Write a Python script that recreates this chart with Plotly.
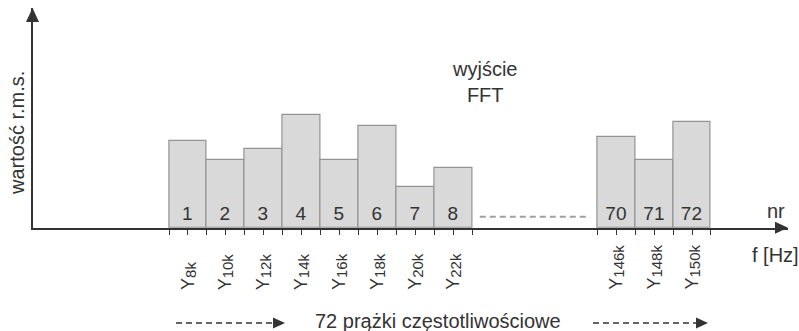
import plotly.graph_objects as go

# FFT output bins: bin number, r.m.s. value and the frequency each bin represents
bin_numbers = ["1", "2", "3", "4", "5", "6", "7", "8", "70", "71", "72"]
rms_values = [87, 68, 79, 113, 68, 102, 41, 60, 91, 68, 106]
freq_labels = ["8k", "10k", "12k", "14k", "16k", "18k", "20k", "22k", "146k", "148k", "150k"]

W, H = 799, 331
INK = "#333333"
FONT = "Liberation Sans, Arial, sans-serif"

# bins 1..8 sit side by side, the last three bins follow after an elided gap
GAP_SLOTS = 3.3
positions = [i + 1 if i < 8 else i + 1 + GAP_SLOTS for i in range(len(bin_numbers))]

# plot-area placement (pixels) and axis ranges
X0_PX, X1_PX = 32.5, 788.0          # vertical axis .. horizontal arrow tip
Y0_PX, Y1_PX = 227.7, 8.0           # baseline .. vertical arrow tip
SLOT_PX = 37.9
FIRST_EDGE_PX = 169.0


def px_to_x(p):
    return (p - FIRST_EDGE_PX) / SLOT_PX + 0.5


def paper_x(p):
    return p / W


def paper_y(p):
    return (H - p) / H


fig = go.Figure()

fig.add_trace(go.Bar(
    x=positions,
    y=rms_values,
    width=1.0,
    marker=dict(color="#d9d9d9", line=dict(color="#939393", width=1.2)),
    text=bin_numbers,
    textposition="inside",
    insidetextanchor="start",
    textangle=0,
    constraintext="none",
    textfont=dict(family=FONT, size=19, color=INK),
    hoverinfo="skip",
))

# tick marks at every bin edge and bin centre
tick_vals = []
for p in positions:
    tick_vals += [p - 0.5, p, p + 0.5]
tick_vals = sorted(set(round(t, 4) for t in tick_vals))

fig.update_layout(
    width=W, height=H,
    margin=dict(l=0, r=0, t=0, b=0),
    paper_bgcolor="white", plot_bgcolor="white",
    showlegend=False,
    bargap=0,
    xaxis=dict(
        domain=[paper_x(X0_PX), paper_x(X1_PX)],
        range=[px_to_x(X0_PX), px_to_x(X1_PX)],
        showgrid=False, zeroline=False,
        showline=True, linecolor=INK, linewidth=2,
        tickmode="array", tickvals=tick_vals,
        ticks="outside", ticklen=5, tickwidth=1.3, tickcolor=INK,
        showticklabels=False,
        fixedrange=True,
    ),
    yaxis=dict(
        domain=[paper_y(Y0_PX), paper_y(Y1_PX)],
        range=[0, Y0_PX - Y1_PX],
        showgrid=False, zeroline=False,
        showline=True, linecolor=INK, linewidth=2,
        ticks="", showticklabels=False,
        fixedrange=True,
    ),
)

shapes = []
# arrow heads on both axes
shapes.append(dict(type="path", xref="paper", yref="paper",
                   path=f"M {paper_x(X0_PX)} {paper_y(Y1_PX)} "
                        f"L {paper_x(X0_PX - 6.5)} {paper_y(Y1_PX + 14)} "
                        f"L {paper_x(X0_PX + 6.5)} {paper_y(Y1_PX + 14)} Z",
                   fillcolor=INK, line=dict(width=0)))
shapes.append(dict(type="path", xref="paper", yref="paper",
                   path=f"M {paper_x(X1_PX)} {paper_y(Y0_PX)} "
                        f"L {paper_x(X1_PX - 13)} {paper_y(Y0_PX - 6)} "
                        f"L {paper_x(X1_PX - 13)} {paper_y(Y0_PX + 6)} Z",
                   fillcolor=INK, line=dict(width=0)))

# grey dashes standing for the omitted bins
shapes.append(dict(type="line", xref="x", yref="y",
                   x0=positions[7] + 0.5 + 0.2, x1=positions[8] - 0.5 - 0.2,
                   y0=11, y1=11,
                   line=dict(color="#a0a0a0", width=2, dash="6px,4px")))

# dashed arrows around the caption under the axis
ARROW_Y = 323
for x_start, x_end in [(176, 285), (593, 708)]:
    shapes.append(dict(type="line", xref="paper", yref="paper",
                       x0=paper_x(x_start), x1=paper_x(x_end - 12),
                       y0=paper_y(ARROW_Y), y1=paper_y(ARROW_Y),
                       line=dict(color=INK, width=1.5, dash="6px,4px")))
    shapes.append(dict(type="path", xref="paper", yref="paper",
                       path=f"M {paper_x(x_end)} {paper_y(ARROW_Y)} "
                            f"L {paper_x(x_end - 12)} {paper_y(ARROW_Y - 5.5)} "
                            f"L {paper_x(x_end - 12)} {paper_y(ARROW_Y + 5.5)} Z",
                       fillcolor=INK, line=dict(width=0)))
fig.update_layout(shapes=shapes)

annotations = []
# frequency labels under each bin, written bottom-to-top, index slightly lowered
for p, f in zip(positions, freq_labels):
    annotations.append(dict(
        x=p, xref="x", y=paper_y(292), yref="paper",
        text=f"Y<span style='font-size:15px;baseline-shift:-1.5px'>{f}</span>",
        textangle=-90,
        xanchor="center", yanchor="bottom", showarrow=False,
        font=dict(family=FONT, size=18, color=INK),
    ))

annotations += [
    dict(x=paper_x(484), y=paper_y(82), xref="paper", yref="paper",
         text="wyjście<br>FFT", showarrow=False, xanchor="center", yanchor="middle",
         font=dict(family=FONT, size=20, color=INK)),
    dict(x=paper_x(17), y=paper_y(133), xref="paper", yref="paper",
         text="wartość r.m.s.", textangle=-90, showarrow=False,
         xanchor="center", yanchor="middle",
         font=dict(family=FONT, size=20, color=INK)),
    dict(x=paper_x(776), y=paper_y(211), xref="paper", yref="paper",
         text="nr", showarrow=False, xanchor="center", yanchor="middle",
         font=dict(family=FONT, size=20, color=INK)),
    dict(x=paper_x(775), y=paper_y(255), xref="paper", yref="paper",
         text="f [Hz]", showarrow=False, xanchor="center", yanchor="middle",
         font=dict(family=FONT, size=20, color=INK)),
    dict(x=paper_x(438), y=paper_y(320.5), xref="paper", yref="paper",
         text="72 prążki częstotliwościowe", showarrow=False,
         xanchor="center", yanchor="middle",
         font=dict(family=FONT, size=20, color=INK)),
]
fig.update_layout(annotations=annotations)

fig.write_html("out.html")
